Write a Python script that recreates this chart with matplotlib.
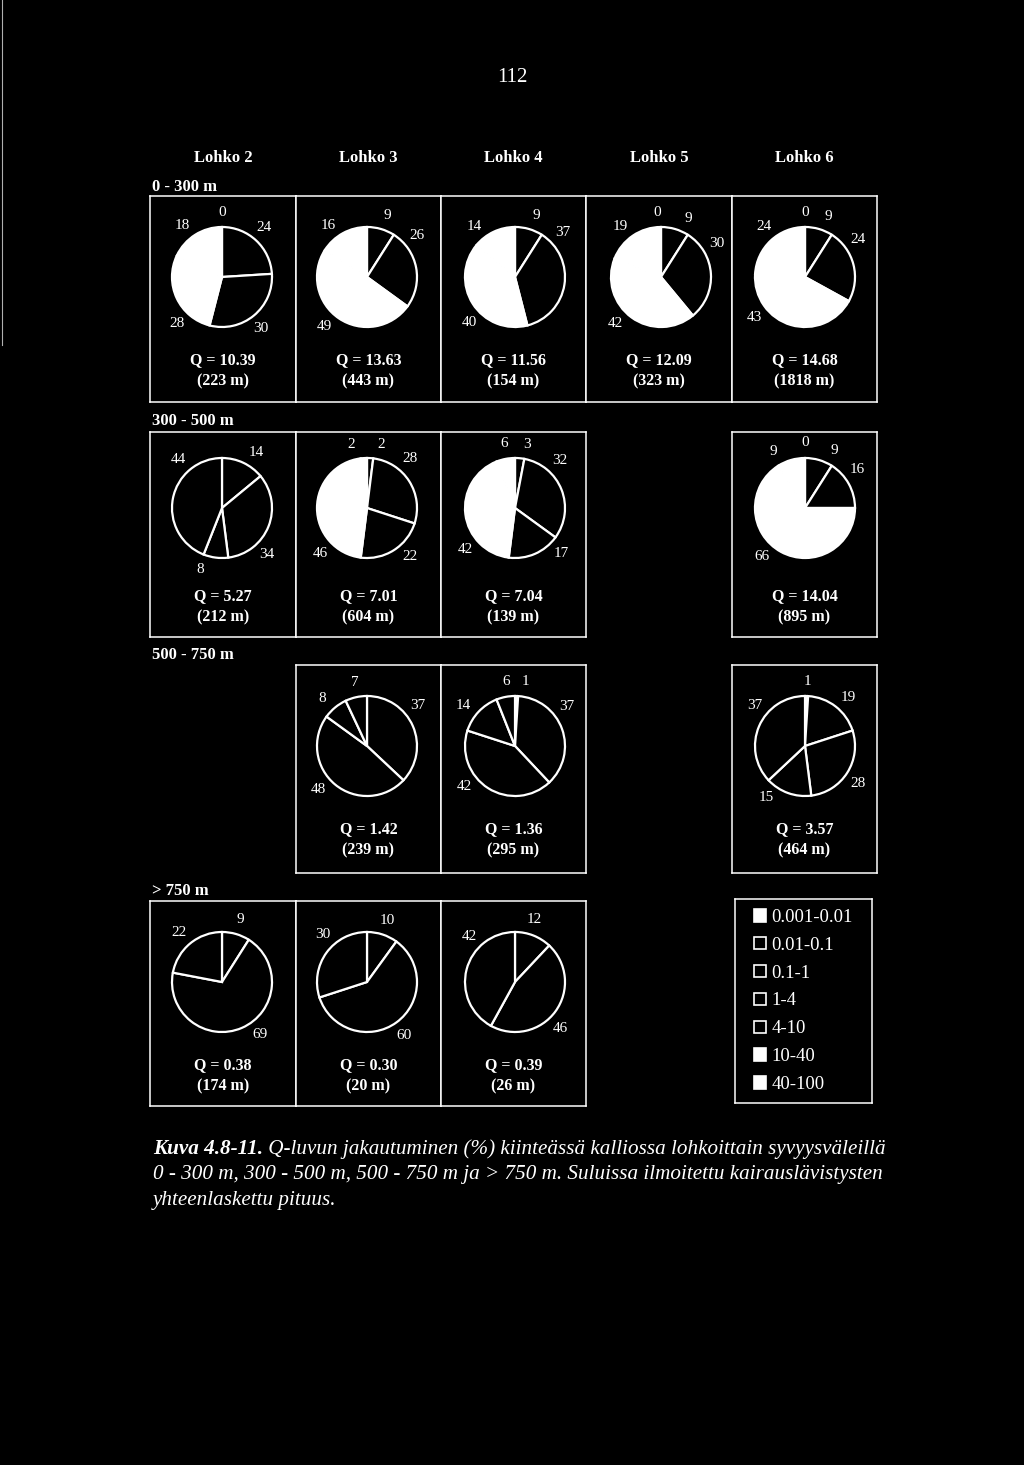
import matplotlib
matplotlib.use("Agg")
import matplotlib.pyplot as plt
from matplotlib.patches import Patch
from matplotlib.lines import Line2D
import numpy as np

# ---------------- data ----------------
blocks = ['Lohko 2', 'Lohko 3', 'Lohko 4', 'Lohko 5', 'Lohko 6']
ranges = ['0 - 300 m', '300 - 500 m', '500 - 750 m', '> 750 m']
classes = ['0.001-0.01', '0.01-0.1', '0.1-1', '1-4', '4-10', '10-40', '40-100']
class_filled = [True, False, False, False, False, True, True]

# each pie: depth row, block column, first class shown, shares (%) clockwise from top
pie_row = [0, 0, 0, 0, 0, 1, 1, 1, 1, 2, 2, 2, 3, 3, 3]
pie_col = [0, 1, 2, 3, 4, 0, 1, 2, 4, 1, 2, 4, 0, 1, 2]
pie_first_class = [2, 3, 3, 2, 2, 1, 2, 2, 2, 1, 0, 0, 1, 1, 1]
pie_values = [
    [0, 24, 30, 28, 18],
    [9, 26, 49, 16],
    [9, 37, 40, 14],
    [0, 9, 30, 42, 19],
    [0, 9, 24, 43, 24],
    [14, 34, 8, 44],
    [2, 28, 22, 46, 2],
    [3, 32, 17, 42, 6],
    [0, 9, 16, 66, 9],
    [37, 48, 8, 7],
    [1, 37, 42, 14, 6],
    [1, 19, 28, 15, 37],
    [9, 69, 22],
    [10, 60, 30],
    [12, 46, 42],
]
q_values = [10.39, 13.63, 11.56, 12.09, 14.68, 5.27, 7.01, 7.04, 14.04,
            1.42, 1.36, 3.57, 0.38, 0.30, 0.39]
lengths_m = [223, 443, 154, 323, 1818, 212, 604, 139, 895, 239, 295, 464, 174, 20, 26]

# ---------------- layout (pixels of the 1024x1465 page) ----------------
label_angles = [  # degrees clockwise from 12 o'clock
    [0, 40, 143, 224, 322],
    [18, 50, 221, 323],
    [19, 47, 225, 321],
    [357, 25, 59, 224, 321],
    [0, 21, 55, 231, 321],
    [32, 136, 200, 318],
    [13, 41, 138, 226, 346],
    [11, 43, 135, 230, 350],
    [0, 27, 54, 222, 331],
    [52, 228, 317, 349],
    [9, 53, 231, 308, 352],
    [2, 42, 125, 217, 309],
    [16, 144, 319],
    [18, 145, 317],
    [17, 136, 315],
]
W, H = 1024, 1465
col_edges = [150, 296, 441, 586, 732, 877]
pie_cx = [222, 367, 515, 661, 805]
row_box = [(196, 402), (432, 637), (665, 873), (901, 1106)]
pie_cy = [277, 508, 746, 982]
row_label_y = [187, 421, 655, 891]
R = 50.0          # pie radius in px
LBL = 1.3         # label distance in radii

FG = 'white'
BG = 'black'
plt.rcParams['font.family'] = ['Liberation Serif', 'DejaVu Serif']

fig = plt.figure(figsize=(W / 100, H / 100), dpi=100, facecolor=BG)


def fx(x):
    return x / W


def fy(y):
    return 1 - y / H


def add_px_axes(x0, y0, x1, y1):
    return fig.add_axes([fx(x0), fy(y1), (x1 - x0) / W, (y1 - y0) / H])


# scan edge line at far left
fig.add_artist(Line2D([fx(2), fx(2)], [fy(0), fy(345)], color='#b0b0b0', lw=0.8,
                      transform=fig.transFigure))

# page number
fig.text(fx(512), fy(77), '112', color=FG, fontsize=15, ha='center', va='center')

# column headers
for c, name in enumerate(blocks):
    fig.text(fx((col_edges[c] + col_edges[c + 1]) / 2), fy(158), name, color=FG,
             fontsize=12, fontweight='bold', ha='center', va='center')

# depth-range labels
for r, name in enumerate(ranges):
    fig.text(fx(152), fy(row_label_y[r]), name, color=FG, fontsize=12,
             fontweight='bold', ha='left', va='center')

# panels and pies
for i, vals in enumerate(pie_values):
    r, c = pie_row[i], pie_col[i]
    top, bot = row_box[r]
    box = add_px_axes(col_edges[c], top, col_edges[c + 1], bot)
    box.set_facecolor(BG)
    box.set_xticks([])
    box.set_yticks([])
    for sp in box.spines.values():
        sp.set_color(FG)
        sp.set_linewidth(1.1)

    cls = range(pie_first_class[i], pie_first_class[i] + len(vals))
    colors = [FG if class_filled[k] else BG for k in cls]
    half = 75
    cx, cy = pie_cx[c], pie_cy[r]
    ax = add_px_axes(cx - half, cy - half, cx + half, cy + half)
    ax.patch.set_alpha(0)
    ax.pie(vals, colors=colors, startangle=90, counterclock=False,
           wedgeprops=dict(edgecolor=FG, linewidth=1.6))
    lim = half / R
    ax.set_xlim(-lim, lim)
    ax.set_ylim(-lim, lim)
    ax.set_aspect('equal')
    ax.axis('off')
    for v, a in zip(vals, label_angles[i]):
        t = np.deg2rad(a)
        ax.text(LBL * np.sin(t), LBL * np.cos(t), f'{v}', color=FG, fontsize=11,
                ha='center', va='center')

    mid = (col_edges[c] + col_edges[c + 1]) / 2
    fig.text(fx(mid), fy(top + 164), f'Q = {q_values[i]:.2f}', color=FG, fontsize=11.5,
             fontweight='bold', ha='center', va='center')
    fig.text(fx(mid), fy(top + 185), f'({lengths_m[i]} m)', color=FG, fontsize=11.5,
             fontweight='bold', ha='center', va='center')

# legend panel
lax = add_px_axes(735, 899, 872, 1103)
lax.set_facecolor(BG)
lax.set_xticks([])
lax.set_yticks([])
for sp in lax.spines.values():
    sp.set_color(FG)
    sp.set_linewidth(1.1)
handles = [Patch(facecolor=FG if f else BG, edgecolor=FG, linewidth=1.2) for f in class_filled]
leg = lax.legend(handles, classes, loc='center', frameon=False, fontsize=13.5,
                 handlelength=0.65, handleheight=0.65, handletextpad=0.3,
                 labelspacing=0.58, borderaxespad=0)
for t in leg.get_texts():
    t.set_color(FG)

# caption
cap_size = 16
renderer = fig.canvas.get_renderer()
t1 = fig.text(fx(153), fy(1154), 'Kuva 4.8-11.', color=FG, fontsize=cap_size,
              fontstyle='italic', fontweight='bold', ha='left', va='baseline')
rest1 = ' Q-luvun jakautuminen (%) kiinteässä kalliossa lohkoittain syvyysväleillä'
t1b = fig.text(0, fy(1154), rest1, color=FG, fontsize=cap_size, fontstyle='italic',
               ha='left', va='baseline')
w1 = t1.get_window_extent(renderer).width + t1b.get_window_extent(renderer).width
scale = 730.0 / w1
cap_size *= scale
t1.set_fontsize(cap_size)
t1b.set_fontsize(cap_size)
wa = t1.get_window_extent(renderer).width
t1b.set_x(fx(153 + wa))
fig.text(fx(153), fy(1179.5),
         '0 - 300 m, 300 - 500 m, 500 - 750 m ja > 750 m. Suluissa ilmoitettu kairauslävistysten',
         color=FG, fontsize=cap_size, fontstyle='italic', ha='left', va='baseline')
fig.text(fx(153), fy(1205), 'yhteenlaskettu pituus.', color=FG, fontsize=cap_size,
         fontstyle='italic', ha='left', va='baseline')

fig.savefig('out.png', dpi=100, facecolor=BG)
